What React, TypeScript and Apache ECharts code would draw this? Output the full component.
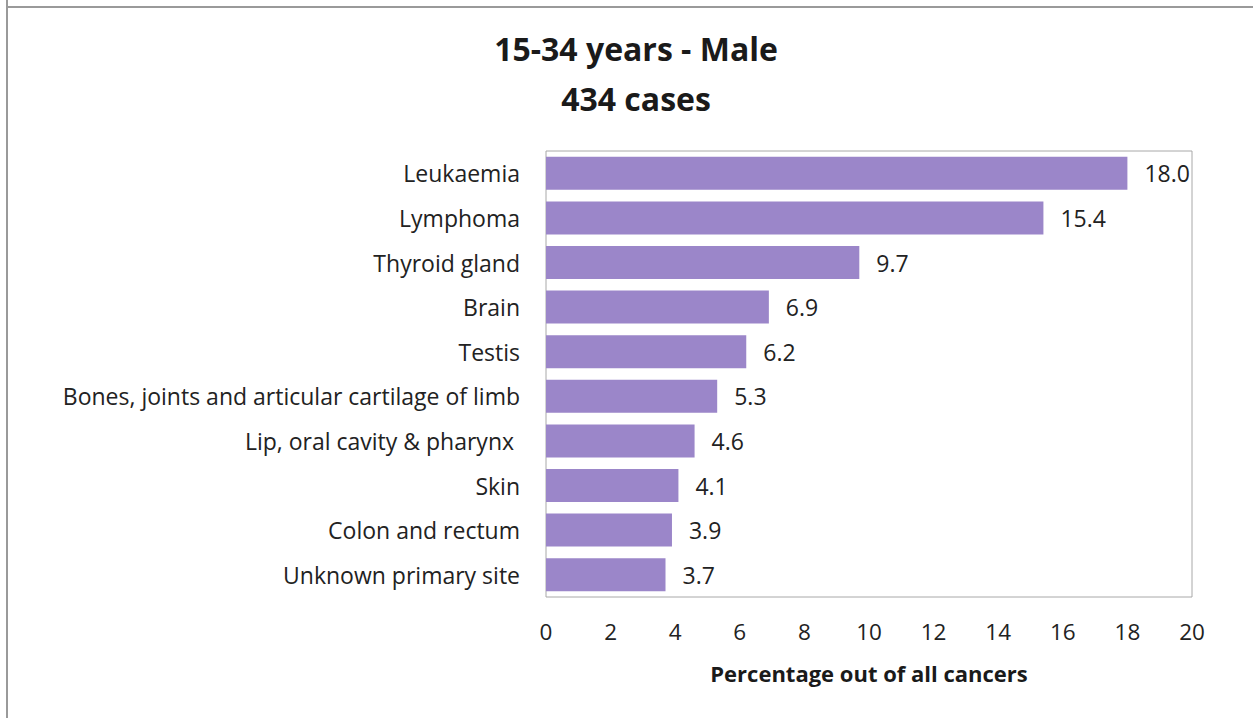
import React, { useEffect, useRef } from "react";
import * as echarts from "echarts";

const categories = [
  "Leukaemia",
  "Lymphoma",
  "Thyroid gland",
  "Brain",
  "Testis",
  "Bones, joints and articular cartilage of limb",
  "Lip, oral cavity & pharynx ",
  "Skin",
  "Colon and rectum",
  "Unknown primary site",
];
const values = [18.0, 15.4, 9.7, 6.9, 6.2, 5.3, 4.6, 4.1, 3.9, 3.7];
const titleLines = ["15-34 years - Male", "434 cases"];
const xAxisName = "Percentage out of all cancers";

const FONT = "'Open Sans', sans-serif";

export default function App() {
  const ref = useRef<HTMLDivElement>(null);
  useEffect(() => {
    if (!ref.current) return;
    const chart = echarts.init(ref.current, undefined, { renderer: "svg" });
    chart.setOption({
      animation: false,
      backgroundColor: "#ffffff",
      title: {
        text: titleLines.join("\n"),
        left: 631,
        top: 18,
        textAlign: "center",
        textStyle: {
          fontFamily: FONT,
          fontWeight: "bold",
          fontSize: 32,
          lineHeight: 50,
          color: "#1a1a1a",
        },
      },
      graphic: [
        { type: "line", shape: { x1: 7, y1: 0, x2: 7, y2: 718 }, style: { stroke: "#9a9a9a", lineWidth: 2 } },
        { type: "line", shape: { x1: 6, y1: 7, x2: 1253, y2: 7 }, style: { stroke: "#9a9a9a", lineWidth: 2 } },
      ],
      grid: {
        left: 546,
        right: 61,
        top: 151,
        bottom: 121,
        show: true,
        borderColor: "#a8a8a8",
        borderWidth: 1,
        containLabel: false,
      },
      xAxis: {
        type: "value",
        min: 0,
        max: 20,
        interval: 2,
        name: xAxisName,
        nameLocation: "middle",
        nameGap: 65,
        nameTextStyle: { fontFamily: FONT, fontWeight: "bold", fontSize: 22, color: "#1a1a1a" },
        axisLine: { show: false },
        axisTick: { show: false },
        splitLine: { show: false },
        axisLabel: { fontFamily: FONT, fontSize: 22.5, color: "#222", margin: 23 },
      },
      yAxis: {
        type: "category",
        data: categories,
        inverse: true,
        axisLine: { show: false },
        axisTick: { show: false },
        axisLabel: { fontFamily: FONT, fontSize: 23, color: "#222", margin: 26 },
      },
      series: [
        {
          type: "bar",
          data: values,
          barCategoryGap: "26%",
          itemStyle: { color: "#9b86c9" },
          label: {
            show: true,
            position: "right",
            distance: 17,
            formatter: (p: any) => Number(p.value).toFixed(1),
            fontFamily: FONT,
            fontSize: 23,
            color: "#222",
          },
        },
      ],
    });
    return () => chart.dispose();
  }, []);
  return (
    <div
      ref={ref}
      style={{ position: "fixed", left: 0, top: 0, width: 1253, height: 718 }}
    />
  );
}
